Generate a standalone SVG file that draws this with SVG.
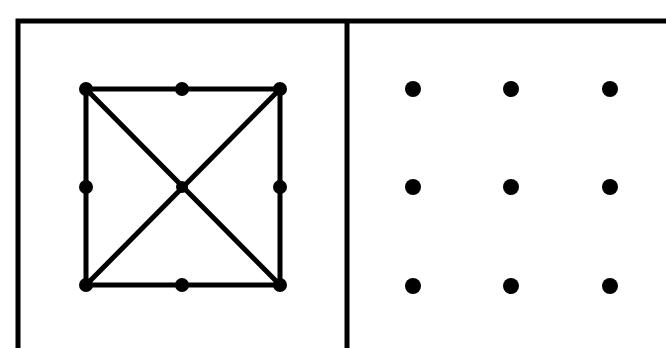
<svg xmlns="http://www.w3.org/2000/svg" width="666" height="348" viewBox="0 0 666 348">
<style>
.ln{stroke:#000;stroke-width:5;fill:none;stroke-linecap:round}
.fr{stroke:#000;stroke-width:5;fill:none}
.pt{fill:#000}
</style>
<rect width="666" height="348" fill="#fff"/>
<g id="frame">
<path class="fr" d="M18,350 V21 H668"/>
<path class="fr" d="M347,21 V350"/>
</g>
<g id="connectors">
<path class="ln" d="M86,89 H280 V285 H86 Z"/>
<path class="ln" d="M86,89 L280,285 M280,89 L86,285"/>
</g>
<g id="left-points">
<circle class="pt" cx="86" cy="89" r="7"/>
<circle class="pt" cx="182" cy="89" r="7"/>
<circle class="pt" cx="280" cy="89" r="7"/>
<circle class="pt" cx="86" cy="187" r="7"/>
<circle class="pt" cx="182" cy="187" r="6"/>
<circle class="pt" cx="280" cy="187" r="7"/>
<circle class="pt" cx="86" cy="285" r="7"/>
<circle class="pt" cx="182" cy="285" r="7"/>
<circle class="pt" cx="280" cy="285" r="7"/>
</g>
<g id="right-points">
<circle class="pt" cx="413" cy="89" r="8"/>
<circle class="pt" cx="511" cy="89" r="8"/>
<circle class="pt" cx="610" cy="89" r="8"/>
<circle class="pt" cx="413" cy="187" r="8"/>
<circle class="pt" cx="511" cy="187" r="8"/>
<circle class="pt" cx="610" cy="187" r="8"/>
<circle class="pt" cx="413" cy="286" r="8"/>
<circle class="pt" cx="511" cy="286" r="8"/>
<circle class="pt" cx="610" cy="286" r="8"/>
</g>
</svg>
